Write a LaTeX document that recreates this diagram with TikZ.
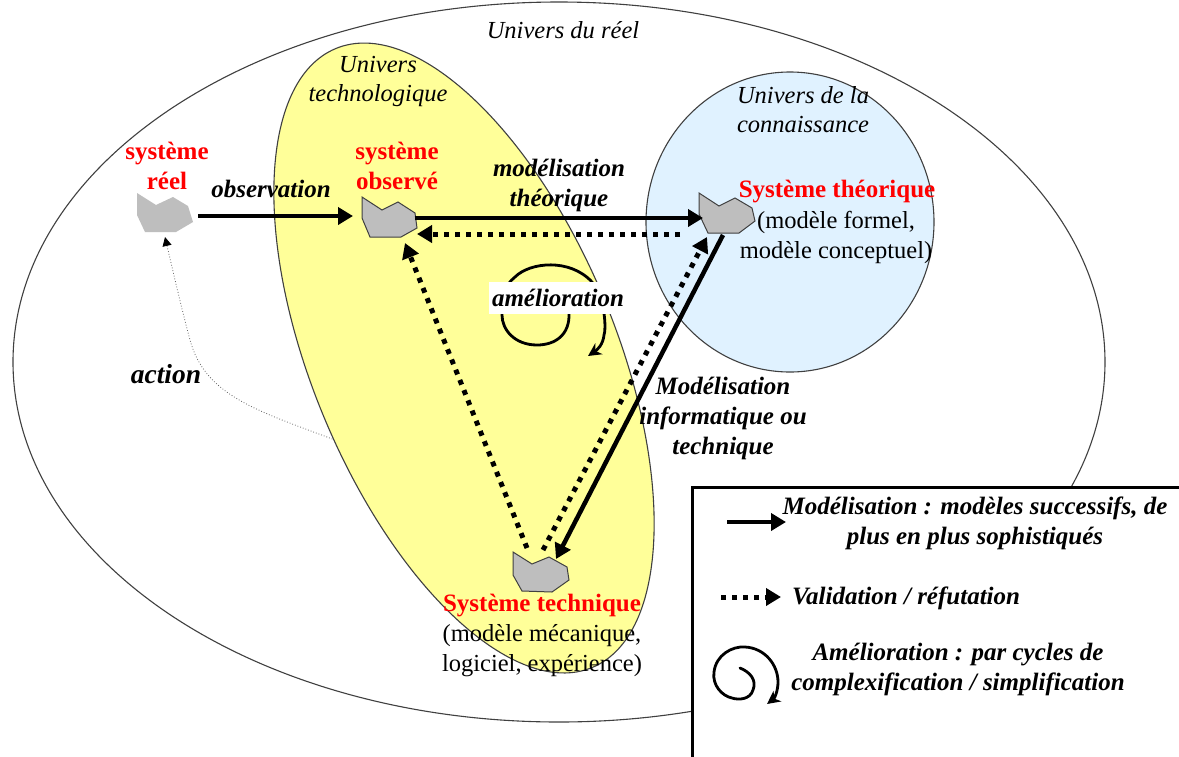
\documentclass[tikz,border=0pt]{standalone}
\usepackage{fontspec}
\setmainfont{Liberation Serif}
\usetikzlibrary{arrows.meta,calc}
\definecolor{yel}{RGB}{255,255,153}
\definecolor{blu}{RGB}{224,242,255}
\definecolor{gry}{RGB}{190,190,190}
\tikzset{
 x=1pt,y=-1pt,
 zone/.style={draw=black!75,line width=1.1pt},
 solidarrow/.style={line width=4.5pt,-{Triangle[length=15pt,width=17pt]}},
 dotarrow/.style={line width=5pt,dash pattern=on 5pt off 6pt,-{Triangle[length=15pt,width=17pt]}},
 spiralarrow/.style={line width=2.8pt,-{Stealth[length=13pt,width=13pt,inset=4pt]},line cap=round},
 rock/.style={fill=gry,draw=black!75,line width=1pt},
 redlab/.style={text=red,font=\fontsize{25}{30}\selectfont\bfseries,align=center,inner sep=0pt},
 blacklab/.style={font=\fontsize{24.5}{30}\selectfont,align=center,inner sep=0pt},
 bilab/.style={font=\fontsize{25}{30}\selectfont\bfseries\itshape,align=center,inner sep=0pt},
 zonelab/.style={font=\fontsize{24.5}{29}\selectfont\itshape,align=center,inner sep=0pt},
}
\begin{document}
\begin{tikzpicture}
\useasboundingbox (0,0) rectangle (1179,756);
\fill[white] (0,0) rectangle (1179,756);
% zones
\draw[zone,fill=white] (559,362) ellipse [x radius=546,y radius=360];
% connector ends
\coordinate (obsA) at (198,216);
\coordinate (obsB) at (353,216);
\coordinate (thA) at (415,218);
\coordinate (thB) at (703,218);
\coordinate (backA) at (680,234);
\coordinate (backB) at (417,234);
\coordinate (techObsA) at (527,548);
\coordinate (techObsB) at (405,243);
\coordinate (techThA) at (543,550);
\coordinate (techThB) at (707,237);
\coordinate (thTechA) at (723,235);
\coordinate (thTechB) at (556,559);
\coordinate (actA) at (335,440);
\coordinate (actB) at (165,237);
\coordinate (legSolA) at (727,522);
\coordinate (legSolB) at (786,522);
\coordinate (legDotA) at (721,597);
\coordinate (legDotB) at (781,597);
\draw[black!60,line width=.8pt,dotted,-{Triangle[length=9pt,width=9pt,black]}] (actA) .. controls (255,410) and (205,395) .. (190,340) .. controls (182,310) and (175,280) .. (actB);
\draw[zone,fill=yel,rotate around={22.5:(464,358)}] (464,358) ellipse [x radius=152,y radius=335];
\draw[zone,fill=blu] (790,222) ellipse [x radius=144,y radius=150];
% rocks
\path[fill=gry] (137,193) -- (156,205) -- (173,197) -- (188,206) -- (193,222) -- (176,232) -- (145,232) -- (137,215) -- cycle;
\draw[rock] (362,197) -- (382,210) -- (398,202) -- (415,213) -- (417,228) -- (401,237) -- (370,237) -- (362,218) -- cycle;
\draw[rock] (699,193) -- (719,206) -- (735,198) -- (752,208) -- (755,221) -- (739,233) -- (708,233) -- (699,214) -- cycle;
\draw[rock] (513,552) -- (532,564) -- (549,557) -- (567,567) -- (569,580) -- (552,592) -- (522,591) -- (513,575) -- cycle;
% connectors
\draw[solidarrow] (obsA) -- (obsB);
\draw[solidarrow] (thA) -- (thB);
\draw[dotarrow] (backA) -- (backB);
\draw[dotarrow] (techObsA) -- (techObsB);
\draw[dotarrow] (techThA) -- (techThB);
\draw[solidarrow] (thTechA) -- (thTechB);
% spiral
\draw[spiralarrow] (569,313) .. controls (570,335) and (555,345) .. (537,345)
 .. controls (515,345) and (502,330) .. (502,315)
 .. controls (502,295) and (505,285) .. (515,277)
 .. controls (530,262) and (570,258) .. (592,282)
 .. controls (606,300) and (606,330) .. (604,335)
 .. controls (603,345) and (597,350) .. (588,356);
% labels
\node[zonelab] (zReel) at (563,30) {Univers du réel};
\node[zonelab] (zTech) at (378,81) {Univers\\technologique};
\node[zonelab] (zConn) at (803,110) {Univers de la\\connaissance};
\node[redlab] (sReel) at (167,166) {système\\réel};
\node[redlab] (sObs) at (397,166) {système\\observé};
\node[redlab] (sTheo) at (837,192) {Système théorique};
\node[blacklab] (sTheoB) at (836,237) {(modèle formel,\\modèle conceptuel)};
\node[redlab] (sTech) at (542,606) {Système technique};
\node[blacklab] (sTechB) at (542,651) {(modèle mécanique,\\logiciel, expérience)};
\node[bilab] (lObs) at (271,189) {observation};
\node[bilab] (lMod) at (559,185) {modélisation\\théorique};
\node[bilab,fill=white,minimum width=139pt,minimum height=32pt] (lAme) at (558,298) {amélioration};
\node[bilab,font=\fontsize{27.5}{30}\selectfont\bfseries\itshape] (lAct) at (166,374) {action};
\node[bilab] (lInfo) at (723,418) {Modélisation\\informatique ou\\technique};
% legend
\draw[black,line width=3pt,fill=white] (692,1200) -- (692,487) -- (1300,487) -- (1300,1200) -- cycle;
\draw[solidarrow] (legSolA) -- (legSolB);
\draw[dotarrow] (legDotA) -- (legDotB);
\draw[spiralarrow] (740,668) .. controls (750,672) and (757,680) .. (753,690)
 .. controls (750,700) and (738,700) .. (732,698)
 .. controls (722,696) and (712,685) .. (714,672)
 .. controls (716,655) and (732,646) .. (745,647)
 .. controls (765,648) and (778,665) .. (778,682)
 .. controls (778,690) and (775,698) .. (767,704);
\node[bilab] (lgA) at (975,523) {Modélisation : modèles successifs, de\\plus en plus sophistiqués};
\node[bilab,anchor=west] (lgB) at (792,598) {Validation / réfutation};
\node[bilab] (lgC) at (958,669) {Amélioration : par cycles de\\complexification / simplification};
\end{tikzpicture}
\end{document}
